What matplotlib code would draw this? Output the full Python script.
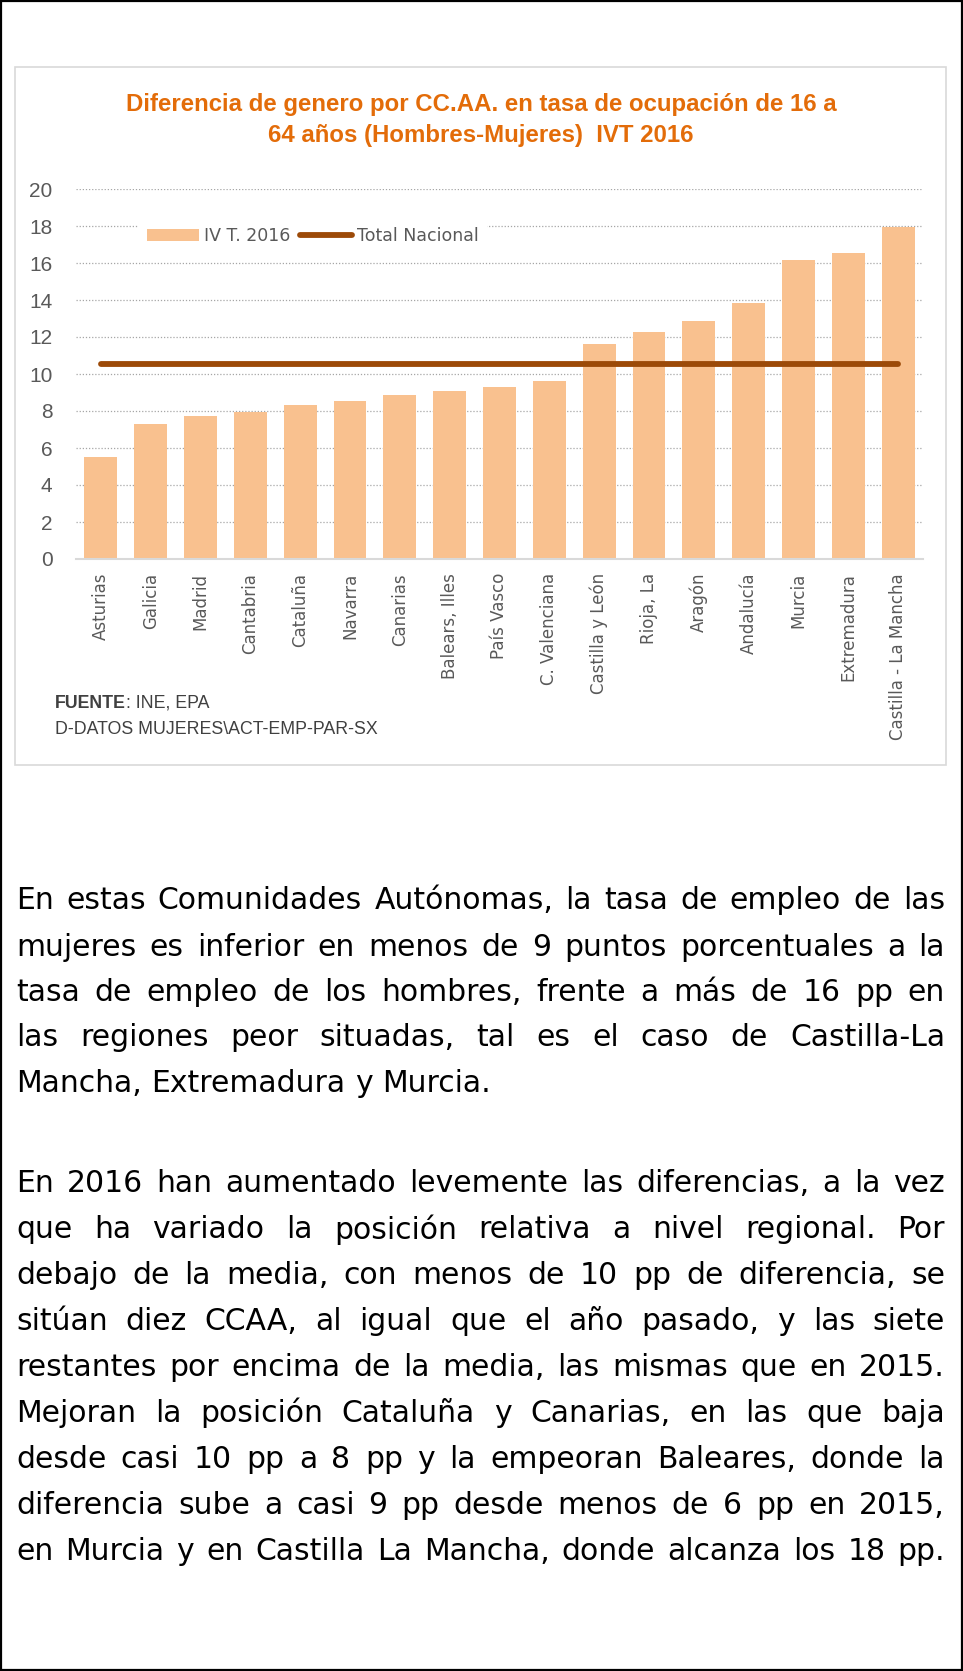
import matplotlib
matplotlib.use("Agg")
import matplotlib.pyplot as plt
from matplotlib.patches import Rectangle

# data
regions = ["Asturias", "Galicia", "Madrid", "Cantabria", "Cataluña", "Navarra",
           "Canarias", "Balears, Illes", "País Vasco", "C. Valenciana",
           "Castilla y León", "Rioja, La", "Aragón", "Andalucía", "Murcia",
           "Extremadura", "Castilla - La Mancha"]
gap_2016 = [5.53, 7.30, 7.75, 7.93, 8.32, 8.56, 8.86, 9.10, 9.32, 9.60,
            11.62, 12.27, 12.86, 13.86, 16.14, 16.54, 17.96]
total_nacional = 10.52

title = ("Diferencia de genero por CC.AA. en tasa de ocupación de 16 a\n"
         "64 años (Hombres-Mujeres)  IVT 2016")

para1 = [
    "En estas Comunidades Autónomas, la tasa de empleo de las",
    "mujeres es inferior en menos de 9 puntos porcentuales a la",
    "tasa de empleo de los hombres, frente a más de 16 pp en",
    "las regiones peor situadas, tal es el caso de Castilla-La",
    "Mancha, Extremadura y Murcia.",
]
para2 = [
    "En 2016 han aumentado levemente las diferencias, a la vez",
    "que ha variado la posición relativa a nivel regional. Por",
    "debajo de la media, con menos de 10 pp de diferencia, se",
    "sitúan diez CCAA, al igual que el año pasado, y las siete",
    "restantes por encima de la media, las mismas que en 2015.",
    "Mejoran la posición Cataluña y Canarias, en las que baja",
    "desde casi 10 pp a 8 pp y la empeoran Baleares, donde la",
    "diferencia sube a casi 9 pp desde menos de 6 pp en 2015,",
    "en Murcia y en Castilla La Mancha, donde alcanza los 18 pp.",
]

W, H = 963, 1671
fig = plt.figure(figsize=(W / 100, H / 100), dpi=100)
renderer = fig.canvas.get_renderer()

# outer page border and chart frame
fig.patches.append(Rectangle((1 / W, 1 / H), 1 - 2 / W, 1 - 2 / H, transform=fig.transFigure,
                             fill=False, edgecolor="black", linewidth=1.6))
fig.patches.append(Rectangle((15 / W, 1 - 765 / H), 931 / W, 698 / H, transform=fig.transFigure,
                             fill=False, edgecolor="#D9D9D9", linewidth=1.2))

ax = fig.add_axes([76 / W, 1 - 559 / H, 847 / W, 370 / H])
x = list(range(len(regions)))
bars = ax.bar(x, gap_2016, width=0.66, color="#F9C18F", label="IV T. 2016", zorder=2)
line, = ax.plot([x[0], x[-1]], [total_nacional, total_nacional], color="#9C4A08", lw=4.2,
                solid_capstyle="round", label="Total Nacional", zorder=3)

ax.set_xlim(-0.5, len(regions) - 0.5)
ax.set_ylim(0, 20)
ax.set_yticks(range(0, 21, 2))
ax.set_xticks(x)
ax.set_xticklabels(regions, rotation=90, ha="center", va="top", fontsize=12,
                   color="#595959", family="DejaVu Sans")
ax.tick_params(axis="x", length=0, pad=10)
ax.tick_params(axis="y", length=0, pad=17, labelsize=15, labelcolor="#595959")
for lab in ax.get_yticklabels():
    lab.set_family("Liberation Sans")
ax.grid(axis="y", color="#A6A6A6", linestyle=(0, (1, 1.5)), linewidth=0.9)
ax.set_axisbelow(True)
for s in ["left", "right", "top"]:
    ax.spines[s].set_visible(False)
ax.spines["bottom"].set_color("#D9D9D9")
ax.spines["bottom"].set_linewidth(1.5)

leg = ax.legend([bars, line], ["IV T. 2016", "Total Nacional"],
                loc="center left", bbox_to_anchor=(0.0735, 0.872), ncol=2,
                frameon=True, facecolor="white", edgecolor="none", framealpha=1,
                handlelength=3.0, handleheight=0.69, handletextpad=0.3, columnspacing=0.52,
                borderpad=0.5, borderaxespad=0, prop={"family": "DejaVu Sans", "size": 12.5})
for t in leg.get_texts():
    t.set_color("#595959")
leg.get_frame().set_boxstyle("square", pad=0)

fig.text(481 / W, 1 - 120 / H, title, ha="center", va="center", fontsize=17.3,
         fontweight="bold", color="#E36C09", family="Liberation Sans", linespacing=1.48)

src1 = fig.text(55 / W, 1 - 703 / H, "FUENTE", ha="left", va="center", fontsize=12.8,
                fontweight="bold", color="#404040", family="Liberation Sans")
bw = src1.get_window_extent(renderer).width
fig.text((55 + bw) / W, 1 - 703 / H, ": INE, EPA", ha="left", va="center", fontsize=12.8,
         color="#404040", family="Liberation Sans")
fig.text(55 / W, 1 - 729 / H, "D-DATOS MUJERES\\ACT-EMP-PAR-SX", ha="left", va="center",
         fontsize=12.8, color="#404040", family="Liberation Sans")

# justified paragraphs
x0, x1 = 16, 945
pfont = dict(fontsize=21.5, color="black", family="DejaVu Sans", va="center", ha="left")


def text_width(s):
    t = fig.text(0, 0, s, **pfont)
    w = t.get_window_extent(renderer).width
    t.remove()
    return w


# shrink the size a bit if some line would not fit at natural spacing
widest = max(text_width(l) for l in para1[:-1] + para2)
if widest > (x1 - x0) * 0.985:
    pfont["fontsize"] *= (x1 - x0) * 0.985 / widest
space = text_width("x x") - text_width("xx")


def justify(lines, ys, justify_last=False):
    for i, (txt, yc) in enumerate(zip(lines, ys)):
        words = txt.split()
        texts = [fig.text(0, 1 - yc / H, w, **pfont) for w in words]
        widths = [t.get_window_extent(renderer).width for t in texts]
        if i == len(lines) - 1 and not justify_last:
            gap = space
        else:
            gap = (x1 - x0 - sum(widths)) / (len(words) - 1)
        pos = x0
        for t, w in zip(texts, widths):
            t.set_x(pos / W)
            pos += w + gap


justify(para1, [901, 947, 993, 1038, 1084])
justify(para2, [1184, 1230, 1276, 1322, 1368, 1413, 1459, 1505, 1551], justify_last=True)

fig.savefig("out.png", dpi=100)
